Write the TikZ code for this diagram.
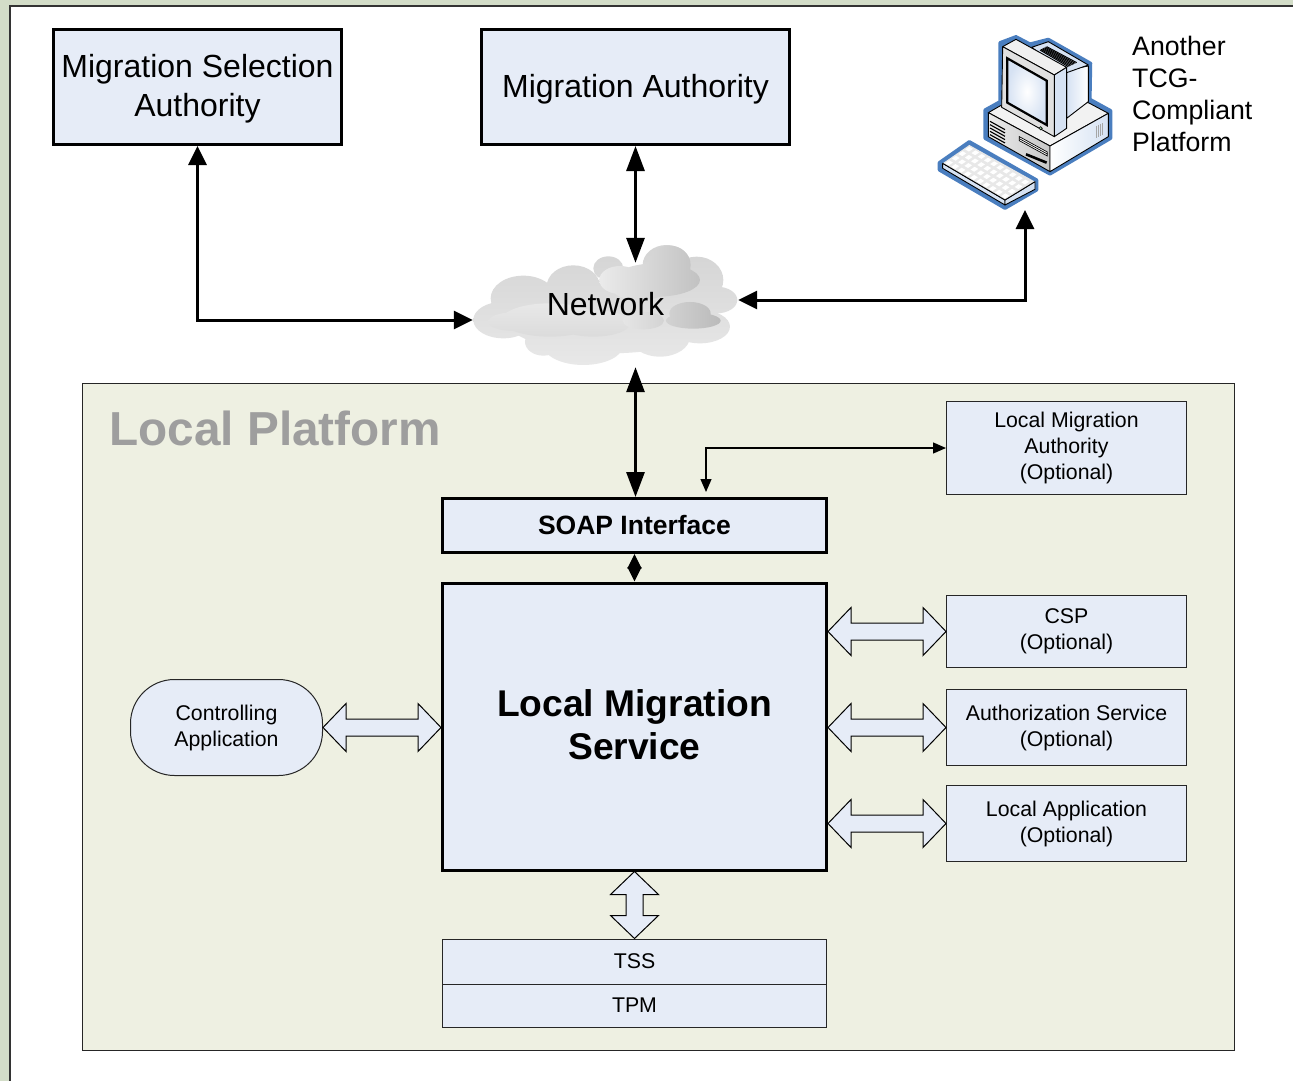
\documentclass[tikz,border=0pt]{standalone}
\usepackage{fontspec}
\setmainfont{Liberation Sans}
\usetikzlibrary{arrows.meta,calc,positioning}
\definecolor{boxfill}{HTML}{E6ECF7}
\definecolor{platfill}{HTML}{EEF0E2}
\definecolor{paper}{HTML}{D3DDC8}
\definecolor{pcblue}{HTML}{4A7EBF}
\definecolor{pcpale}{HTML}{D6E2F3}
\newcommand{\nudge}[2]{\raisebox{#1}[\height][\depth]{#2}}
\tikzset{
  bigbox/.style={draw=black,fill=boxfill,line width=3pt,inner sep=0pt,align=center},
  smallbox/.style={draw=black!85,fill=boxfill,line width=1pt,inner sep=0pt,align=center,
    font=\fontsize{21.3}{26}\selectfont},
  thicklink/.style={line width=3pt,{Triangle[length=19pt,width=18pt]}-{Triangle[length=19pt,width=18pt]}},
  longlink/.style={line width=3pt,{Triangle[length=25pt,width=18pt]}-{Triangle[length=25pt,width=18pt]}},
  thinlink/.style={line width=1.3pt,{Triangle[length=13pt,width=11pt]}-{Triangle[length=13pt,width=11pt]}},
  blocklink/.style={draw=black,fill=boxfill,line width=1pt,miter limit=10,to path={
    -- ($(\tikztostart)!23pt!(\tikztotarget)!24pt!90:(\tikztotarget)$)
    -- ($(\tikztostart)!23pt!(\tikztotarget)!8.5pt!90:(\tikztotarget)$)
    -- ($(\tikztotarget)!23pt!(\tikztostart)!8.5pt!-90:(\tikztostart)$)
    -- ($(\tikztotarget)!23pt!(\tikztostart)!24pt!-90:(\tikztostart)$)
    -- (\tikztotarget)
    -- ($(\tikztotarget)!23pt!(\tikztostart)!24pt!90:(\tikztostart)$)
    -- ($(\tikztotarget)!23pt!(\tikztostart)!8.5pt!90:(\tikztostart)$)
    -- ($(\tikztostart)!23pt!(\tikztotarget)!8.5pt!-90:(\tikztotarget)$)
    -- ($(\tikztostart)!23pt!(\tikztotarget)!24pt!-90:(\tikztotarget)$)
    -- cycle}},
  pcpart/.style={draw=black,line width=.9pt,line join=round}
}
\begin{document}
\begin{tikzpicture}[x=1pt,y=-1pt]
  \useasboundingbox (0,0) rectangle (1293,1081);
  % page
  \fill[paper] (0,0) rectangle (1293,1081);
  \fill[white] (10,6) rectangle (1293,1081);
  \draw[black!80,line width=1.5pt] (10,1081) -- (10,6) -- (1293,6);

  % platform
  \node[draw=black!85,fill=platfill,line width=.9pt,minimum width=1152pt,minimum height=667pt,inner sep=0pt] (platform) at (658,716.5) {};
  \node[anchor=west,text=black!38,font=\bfseries\fontsize{47.7}{50}\selectfont] (platname) at (106,428) {Local Platform};

  \begin{scope}[font=\fontsize{32}{39}\selectfont]
    \node[bigbox,minimum width=288pt,minimum height=115pt] (msa) at (197.5,87) {\nudge{-2pt}{Migration Selection}\\\nudge{-2pt}{Authority}};
    \node[bigbox,minimum width=308pt,minimum height=115pt] (ma)  at (635.5,87) {\nudge{-2pt}{Migration Authority}};
  \end{scope}

  \node[bigbox,minimum width=384pt,minimum height=54pt,font=\bfseries\fontsize{26.5}{30}\selectfont] (soap) at (634.5,525.5) {SOAP Interface};
  \node[bigbox,minimum width=384pt,minimum height=287pt,font=\bfseries\fontsize{37.2}{43}\selectfont] (lms) at (634.5,726.5) {\nudge{1.5pt}{Local Migration}\\\nudge{1.5pt}{Service}};

  \begin{scope}[minimum width=240pt]
    \node[smallbox,minimum height=93pt] (lma)  at (1066.5,448) {Local Migration\\Authority\\(Optional)};
    \node[smallbox,minimum height=72pt] (csp)  at (1066.5,631.5) {CSP\\(Optional)};
    \node[smallbox,minimum height=76pt] (auth) at (1066.5,727.5) {Authorization Service\\(Optional)};
    \node[smallbox,minimum height=76pt] (locapp) at (1066.5,823.5) {Local Application\\(Optional)};
  \end{scope}

  \node[smallbox,rounded corners=44pt,minimum width=192pt,minimum height=96pt] (ctrl) at (226.5,727.5) {Controlling\\Application};
  \node[smallbox,minimum width=384pt,minimum height=45pt] (tss) at (634.5,961.5) {TSS};
  \node[smallbox,minimum width=384pt,minimum height=43pt] (tpm) at (634.5,1005.5) {TPM};

  % cloud
  \begin{scope}[shift={(460,230)},x=.3333pt,y=-.3333pt]
    \shade[top color=black!17,bottom color=black!9]
      (130,270) ellipse [x radius=90,y radius=55]
      (190,205) ellipse [x radius=98,y radius=68]
      (340,170) ellipse [x radius=80,y radius=64]
      (445,115) ellipse [x radius=45,y radius=36]
      (620,105) ellipse [x radius=72,y radius=60]
      (710,150) ellipse [x radius=80,y radius=70]
      (770,210) ellipse [x radius=62,y radius=40]
      (720,290) ellipse [x radius=90,y radius=50]
      (600,320) ellipse [x radius=90,y radius=60]
      (370,345) ellipse [x radius=120,y radius=60]
      (250,335) ellipse [x radius=55,y radius=42]
      (450,260) ellipse [x radius=320,y radius=110];
    \shade[top color=black!9,bottom color=black!14]
      (160,275) ellipse [x radius=75,y radius=28]
      (270,270) ellipse [x radius=145,y radius=50]
      (400,280) ellipse [x radius=110,y radius=40];
    \shade[left color=black!8,right color=black!24]
      (480,150) ellipse [x radius=62,y radius=42]
      (630,105) ellipse [x radius=62,y radius=58]
      (590,150) ellipse [x radius=130,y radius=50]
      (540,180) ellipse [x radius=80,y radius=30];
    \shade[left color=black!10,right color=black!27]
      (550,272) ellipse [x radius=62,y radius=26]
      (690,250) ellipse [x radius=62,y radius=34]
      (700,272) ellipse [x radius=82,y radius=24];
  \end{scope}
  \node[minimum width=265pt,minimum height=82pt,inner sep=0pt,font=\fontsize{32}{39}\selectfont] (cloud) at (605.5,304) {Network};

  % computer
  \begin{scope}[shift={(920,20)},x=.3333pt,y=-.3333pt]
    \fill[pcblue,draw=pcblue,line width=3.2pt,line join=round]
      (240,68) -- (288,50) -- (330,72) -- (385,58) -- (512,130) -- (510,238) -- (572,272)
      -- (572,355) -- (390,462) -- (195,355) -- (195,270) -- (240,245) -- cycle;
    \fill[pcblue,draw=pcblue,line width=3.2pt,line join=round]
      (58,428) -- (148,365) -- (350,480) -- (350,510) -- (255,565) -- (58,450) -- cycle;
    % base
    \draw[pcpart,fill=black!5] (205,278) -- (245,255) -- (505,248) -- (565,280) -- (390,378) -- cycle;
    \draw[pcpart,left color=black!8,right color=black!22] (205,278) -- (390,378) -- (390,455) -- (205,350) -- cycle;
    \draw[pcpart,left color=white,right color=pcpale] (390,378) -- (565,280) -- (565,350) -- (390,455) -- cycle;
    \foreach \k in {0,1,2,3,4}
      \draw[line width=1.1pt] (210,{304+\k*10}) -- (255,{329+\k*10});
    \draw[line width=.7pt,fill=white] (298,362) -- (382,408) -- (382,396) -- (298,350) -- cycle;
    \draw[line width=.7pt] (298,356) -- (382,402);
    \draw[line width=2.6pt] (318,403) -- (380,428);
    \foreach \k in {0,1,2,3}
      \draw[black!35,line width=.8pt] ({530+\k*6},{318-\k*3}) -- ({530+\k*6},{354-\k*3});
    % monitor back
    \draw[pcpart,left color=pcpale,right color=white] (440,150) -- (505,138) -- (505,245) -- (440,295) -- cycle;
    \draw[pcpart,fill=pcpale] (335,82) -- (385,65) -- (505,135) -- (440,158) -- cycle;
    \foreach \k in {0,...,6}
      \draw[line width=1pt] ({360+\k*3.3},{90-\k*1.7}) -- ({445+\k*4.2},{140-\k*2});
    % monitor
    \draw[pcpart,fill=black!6] (248,80) -- (288,58) -- (440,142) -- (403,165) -- cycle;
    \draw[pcpart,fill=pcpale] (403,165) -- (440,142) -- (440,325) -- (403,350) -- cycle;
    \draw[pcpart,fill=black!12] (248,80) -- (403,165) -- (403,350) -- (245,262) -- cycle;
    \draw[line width=2.2pt,line join=miter,inner color=white,outer color=pcpale] (262,115) -- (380,182) -- (380,315) -- (262,248) -- cycle;
    \draw[fill=green!50!black!40,line width=.6pt] (362,325) circle [radius=5];
    % keyboard
    \draw[pcpart,fill=pcpale] (68,430) -- (255,540) -- (255,555) -- (68,445) -- cycle;
    \draw[pcpart,fill=pcpale] (255,540) -- (345,485) -- (345,508) -- (255,555) -- cycle;
    \fill[black!9] (68,430) -- (148,375) -- (345,485) -- (255,540) -- cycle;
    \draw[pcpart] (68,430) -- (255,540) -- (345,485);
    \foreach \i in {0,...,9}
      \foreach \j in {0,1,2,3}
        \fill[white] ({68+(\i+.2)*18.7+(\j+.2)*20},{430+(\i+.2)*11-(\j+.2)*13.75})
          -- ++(11,6.5) -- ++(12,-8.3) -- ++(-11,-6.5) -- cycle;
  \end{scope}
  \coordinate (pc) at (1025,210);
  \node[anchor=north west,inner sep=0pt,align=left,font=\fontsize{26.7}{32}\selectfont] (pclabel) at (1132,36) {Another\\TCG-\\Compliant\\Platform};

  % links
  \draw[thicklink] (msa.south) |- ([yshift=-16pt]cloud.west);
  \draw[longlink]  (ma.south) -- (cloud.north -| ma.south);
  \draw[thicklink] ([yshift=4pt]cloud.east) -| (pc);
  \draw[longlink]  ([yshift=-22pt]cloud.south -| ma.south) -- (soap.north -| ma.south);
  \draw[thinlink]  ([xshift=71.5pt,yshift=5pt]soap.north) |- (lma.west);
  \draw[line width=1.2pt,{Triangle[length=14.5pt,width=14pt]}-{Triangle[length=14.5pt,width=14pt]}] (soap.south) -- (lms.north);

  \draw[blocklink] (lms.east |- csp.west) to (csp.west);
  \draw[blocklink] (lms.east |- auth.west) to (auth.west);
  \draw[blocklink] (lms.east |- locapp.west) to (locapp.west);
  \draw[blocklink] (ctrl.east) to (lms.west |- ctrl.east);
  \draw[blocklink] (lms.south) to (tss.north -| lms.south);
\end{tikzpicture}
\end{document}
